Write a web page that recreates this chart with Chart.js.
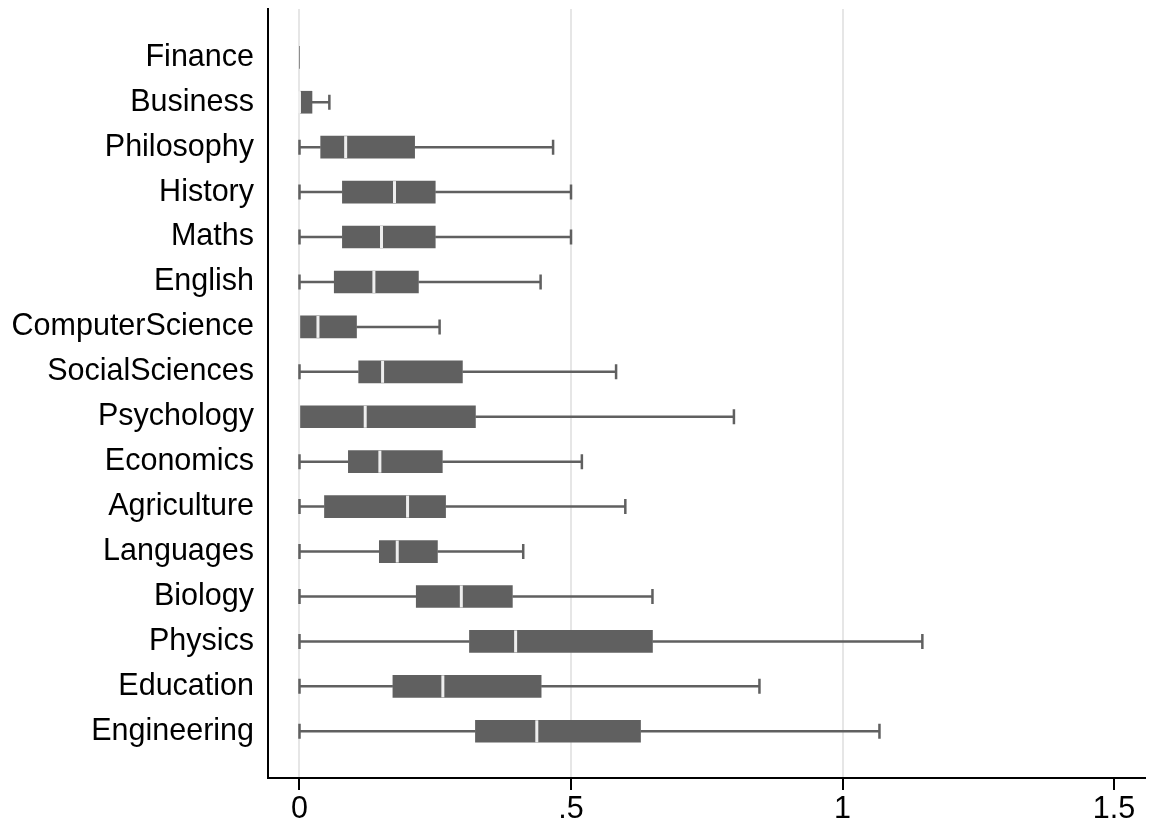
<!DOCTYPE html>
<html>
<head>
<meta charset="utf-8">
<script src="https://cdn.jsdelivr.net/npm/chart.js@4"></script>
<style>
  html, body { margin: 0; padding: 0; background: #fff; }
  #wrap { width: 1152px; height: 825px; }
</style>
</head>
<body>
<div id="wrap"><canvas id="chart" width="1152" height="825"></canvas></div>
<script>
// fields, top to bottom
const categories = ['Finance', 'Business', 'Philosophy', 'History', 'Maths', 'English',
  'ComputerScience', 'SocialSciences', 'Psychology', 'Economics', 'Agriculture',
  'Languages', 'Biology', 'Physics', 'Education', 'Engineering'];

// box plot stats
const mins    = [0, 0, 0, 0, 0, 0, 0, 0, 0, 0, 0, 0, 0, 0, 0, 0];
const q1      = [0, 0, 0.039, 0.079, 0.079, 0.064, 0, 0.109, 0, 0.090, 0.046, 0.147, 0.215, 0.313, 0.172, 0.324];
const medians = [0, 0, 0.085, 0.175, 0.151, 0.137, 0.034, 0.153, 0.121, 0.148, 0.199, 0.180, 0.298, 0.398, 0.264, 0.437];
const q3      = [0, 0.023, 0.212, 0.250, 0.250, 0.219, 0.105, 0.300, 0.324, 0.263, 0.269, 0.254, 0.392, 0.650, 0.445, 0.628];
const maxs    = [0, 0.055, 0.467, 0.500, 0.500, 0.444, 0.258, 0.583, 0.800, 0.520, 0.600, 0.412, 0.650, 1.147, 0.847, 1.068];

const xTicks = [0, 0.5, 1, 1.5];
const xTickLabels = ['0', '.5', '1', '1.5'];

const BOX = '#606060';
const FONT = '"Liberation Sans", Arial, sans-serif';

// whiskers, caps and median lines, positioned with the chart scales
const whiskerPlugin = {
  id: 'whiskers',
  afterDatasetsDraw(chart) {
    const { ctx, scales: { x, y } } = chart;
    ctx.save();
    categories.forEach((c, i) => {
      const py = y.getPixelForValue(i);
      const pMin = x.getPixelForValue(mins[i]);
      const pQ1 = x.getPixelForValue(q1[i]);
      const pQ3 = x.getPixelForValue(q3[i]);
      const pMax = x.getPixelForValue(maxs[i]);
      ctx.strokeStyle = BOX;
      ctx.lineWidth = 2.5;
      ctx.beginPath();
      if (mins[i] < q1[i]) {
        ctx.moveTo(pMin, py); ctx.lineTo(pQ1, py);
        ctx.moveTo(pMin, py - 7.5); ctx.lineTo(pMin, py + 7.5);
      }
      if (maxs[i] > q3[i]) {
        ctx.moveTo(pQ3, py); ctx.lineTo(pMax, py);
        ctx.moveTo(pMax, py - 7.5); ctx.lineTo(pMax, py + 7.5);
      }
      ctx.stroke();
      if (q3[i] > q1[i]) {
        const pMed = x.getPixelForValue(medians[i]);
        ctx.strokeStyle = '#eeeeee';
        ctx.lineWidth = 3;
        ctx.beginPath();
        ctx.moveTo(pMed, py - 11); ctx.lineTo(pMed, py + 11);
        ctx.stroke();
      }
    });
    ctx.restore();
  }
};

new Chart(document.getElementById('chart'), {
  type: 'bar',
  data: {
    datasets: [{
      data: categories.map((c, i) => ({ y: i, x: [q1[i], q3[i]] })),
      backgroundColor: BOX,
      borderWidth: 0,
      barThickness: 22,
      grouped: false
    }]
  },
  options: {
    indexAxis: 'y',
    responsive: false,
    animation: false,
    devicePixelRatio: 1,
    layout: { padding: { top: 9, right: 7, left: 0, bottom: 0 } },
    plugins: { legend: { display: false }, tooltip: { enabled: false } },
    scales: {
      x: {
        type: 'linear',
        min: -0.058,
        max: 1.557,
        afterBuildTicks: (scale) => { scale.ticks = xTicks.map(v => ({ value: v })); },
        afterFit: (scale) => { scale.height = 47; scale.paddingLeft = 0; scale.paddingRight = 0; },
        ticks: {
          color: '#000',
          font: { family: FONT, size: 30.5 },
          padding: 1,
          maxRotation: 0,
          callback: (v) => xTickLabels[xTicks.indexOf(v)]
        },
        grid: {
          color: (ctx) => (ctx.tick && ctx.tick.value === 1.5) ? 'rgba(0,0,0,0)' : '#e6e6e6',
          lineWidth: 2,
          tickColor: '#000',
          tickWidth: 2,
          tickLength: 12
        },
        border: { display: true, color: '#000', width: 2 }
      },
      y: {
        type: 'linear',
        reverse: true,
        offset: false,
        min: -1.075,
        max: 16.04,
        afterBuildTicks: (scale) => { scale.ticks = categories.map((c, i) => ({ value: i })); },
        afterFit: (scale) => { scale.width = 268; scale.paddingTop = 0; scale.paddingBottom = 0; },
        ticks: {
          color: '#000',
          font: { family: FONT, size: 30.5 },
          padding: 14,
          callback: (v) => categories[v]
        },
        grid: { offset: false, drawOnChartArea: false, drawTicks: false },
        border: { display: true, color: '#000', width: 2 }
      }
    }
  },
  plugins: [whiskerPlugin]
});
</script>
</body>
</html>
